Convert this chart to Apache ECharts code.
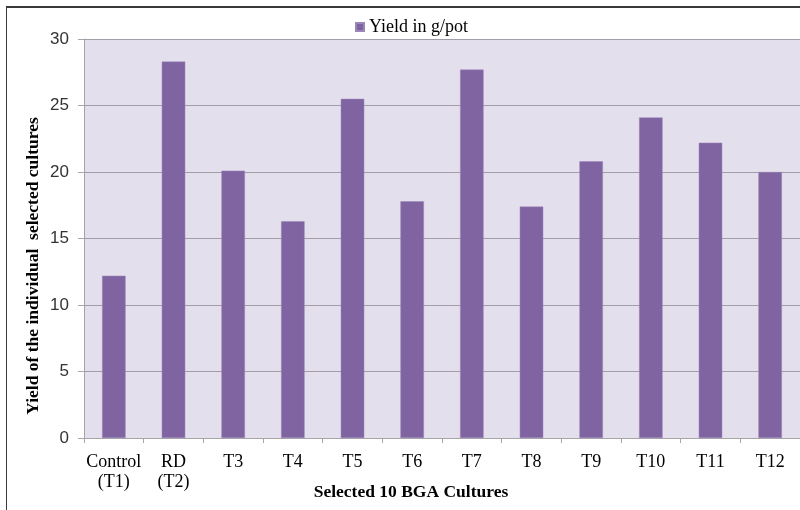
<!DOCTYPE html>
<html>
<head>
<meta charset="utf-8">
<script src="https://cdn.jsdelivr.net/npm/echarts@6/dist/echarts.min.js"></script>
<style>
html,body{margin:0;padding:0;background:#fff;}
#frame{position:absolute;left:6px;top:6px;width:820px;height:520px;border-top:2px solid #3a3a3a;border-left:1px solid #3a3a3a;box-sizing:border-box;}
#chart{position:absolute;left:0;top:0;width:800px;height:510px;}
</style>
</head>
<body>
<div id="frame"></div>
<div id="chart"></div>
<script>
const categories = ['Control\n(T1)', 'RD\n(T2)', 'T3', 'T4', 'T5', 'T6', 'T7', 'T8', 'T9', 'T10', 'T11', 'T12'];
const yieldValues = [12.2, 28.3, 20.1, 16.3, 25.5, 17.8, 27.7, 17.4, 20.8, 24.1, 22.2, 20.0];
const seriesName = 'Yield in g/pot';
const yTicks = [0, 5, 10, 15, 20, 25, 30];
const xTitle = 'Selected 10 BGA Cultures';
const yTitle = 'Yield of the individual  selected cultures';

const chart = echarts.init(document.getElementById('chart'), null, {renderer: 'canvas'});
chart.setOption({
  animation: false,
  backgroundColor: 'transparent',
  grid: {left: 84, right: 0, top: 39, bottom: 72, containLabel: false,
         show: true, backgroundColor: '#E4DFEC', borderWidth: 0},
  legend: {
    data: [seriesName], top: 18, left: 355, padding: 0,
    icon: 'rect', itemWidth: 8, itemHeight: 8, itemGap: 4,
    textStyle: {fontFamily: 'Liberation Serif', fontSize: 18, color: '#000'}
  },
  xAxis: {
    type: 'category', data: categories,
    axisLine: {lineStyle: {color: '#A6A6A6', width: 1}},
    axisTick: {show: true, length: 5, lineStyle: {color: '#A6A6A6'}},
    axisLabel: {fontFamily: 'Liberation Serif', fontSize: 18, color: '#000', margin: 14, lineHeight: 20, interval: 0}
  },
  yAxis: {
    type: 'value', min: yTicks[0], max: yTicks[yTicks.length - 1], interval: 5,
    axisLine: {show: true, lineStyle: {color: '#A6A6A6', width: 1}},
    axisTick: {show: true, length: 6, lineStyle: {color: '#A6A6A6'}},
    axisLabel: {fontFamily: 'Liberation Sans', fontSize: 17, color: '#333', margin: 15},
    splitLine: {lineStyle: {color: '#A29DA9', width: 1}}
  },
  graphic: [
    {type: 'text', x: 33, y: 266, rotation: Math.PI / 2,
     style: {text: yTitle, fontFamily: 'Liberation Serif', fontSize: 17.5, fontWeight: 'bold', fill: '#000', align: 'center', verticalAlign: 'middle'}},
    {type: 'text', x: 411, y: 492,
     style: {text: xTitle, fontFamily: 'Liberation Serif', fontSize: 17.5, fontWeight: 'bold', fill: '#000', align: 'center', verticalAlign: 'middle'}}
  ],
  series: [{
    name: seriesName, type: 'bar', data: yieldValues, barWidth: 23.5,
    itemStyle: {color: '#8064A2', borderColor: '#9B86B8', borderWidth: 0.5}
  }]
});
</script>
</body>
</html>
